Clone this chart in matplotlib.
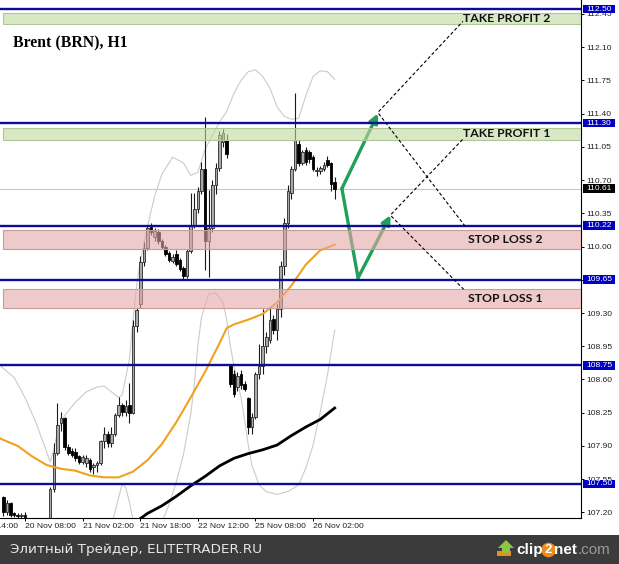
#!/usr/bin/env python3
"""Brent (BRN) H1 candle chart with take-profit / stop-loss scenario levels."""

import matplotlib

matplotlib.use("Agg")
import matplotlib.pyplot as plt
import matplotlib.transforms as mtransforms
from matplotlib.patches import Rectangle, Polygon

OUT_PNG = "out.png"

# hourly candles, bar 0 .. 92
OPENS = [107.36, 107.20, 107.30, 107.19, 107.17, 107.16, 107.17, 107.10, 107.00, 106.95,
         106.98, 106.93, 106.96, 106.95, 107.45, 107.83, 108.14, 108.19, 107.89, 107.85,
         107.84, 107.79, 107.73, 107.72, 107.75, 107.68, 107.70, 107.72, 107.95, 108.03,
         107.93, 108.03, 108.23, 108.33, 108.26, 108.33, 108.25, 109.16, 109.40, 109.84,
         109.98, 110.21, 110.10, 110.15, 110.06, 110.00, 109.93, 109.85, 109.92, 109.86,
         109.77, 109.69, 109.95, 110.23, 110.40, 110.58, 110.82, 110.06, 110.20, 110.65,
         110.83, 111.10, 111.12, 108.74, 108.66, 108.52, 108.66, 108.55, 108.40, 108.10,
         108.21, 108.66, 108.74, 108.95, 109.02, 109.24, 109.12, 109.34, 109.80, 110.25,
         110.56, 110.82, 111.08, 110.88, 111.02, 110.99, 110.94, 110.79, 110.80, 110.82,
         110.91, 110.88, 110.68]
HIGHS = [107.37, 107.33, 107.31, 107.21, 107.19, 107.19, 107.20, 107.12, 107.05, 107.02,
         107.04, 107.00, 107.05, 107.47, 107.93, 108.35, 108.26, 108.21, 107.92, 107.88,
         107.88, 107.81, 107.80, 107.80, 107.77, 107.72, 107.74, 107.96, 108.10, 108.06,
         108.10, 108.25, 108.42, 108.35, 108.38, 108.56, 109.23, 109.35, 109.90, 110.05,
         110.23, 110.25, 110.20, 110.18, 110.08, 110.02, 109.95, 109.92, 109.96, 109.88,
         109.79, 109.97, 110.56, 110.56, 110.63, 110.89, 111.36, 110.60, 110.70, 110.88,
         111.22, 111.24, 111.18, 108.76, 108.70, 108.68, 108.70, 108.58, 108.42, 108.25,
         108.68, 108.97, 109.34, 109.10, 109.36, 109.28, 109.40, 109.85, 110.30, 110.65,
         110.85, 111.62, 111.12, 111.02, 111.05, 111.02, 110.96, 110.84, 110.85, 110.89,
         110.95, 110.89, 110.73]
LOWS = [107.16, 107.17, 107.15, 107.15, 107.14, 107.13, 107.12, 106.98, 106.90, 106.88,
        106.90, 106.86, 106.92, 106.92, 107.42, 107.80, 108.06, 107.86, 107.80, 107.78,
        107.74, 107.71, 107.71, 107.68, 107.63, 107.61, 107.63, 107.70, 107.88, 107.89,
        107.89, 108.00, 108.20, 108.22, 108.22, 108.14, 108.24, 109.10, 109.35, 109.80,
        109.96, 110.12, 110.06, 110.03, 109.97, 109.90, 109.84, 109.83, 109.80, 109.74,
        109.65, 109.67, 109.93, 110.20, 110.35, 110.55, 109.75, 109.68, 110.15, 110.55,
        110.80, 111.05, 110.93, 108.52, 108.42, 108.48, 108.50, 108.48, 108.03, 108.03,
        108.18, 108.60, 108.66, 108.88, 108.98, 109.08, 109.02, 109.26, 109.70, 110.20,
        110.50, 110.80, 110.85, 110.86, 110.86, 110.88, 110.80, 110.74, 110.76, 110.80,
        110.84, 110.58, 110.50]
CLOSES = [107.20, 107.30, 107.17, 107.17, 107.16, 107.17, 107.15, 107.00, 106.95, 106.98,
          106.93, 106.96, 106.95, 107.45, 107.83, 108.12, 108.19, 107.89, 107.83, 107.81,
          107.77, 107.73, 107.78, 107.77, 107.66, 107.70, 107.72, 107.95, 108.03, 107.93,
          108.03, 108.23, 108.33, 108.26, 108.32, 108.25, 109.16, 109.33, 109.84, 109.98,
          110.19, 110.15, 110.16, 110.06, 110.00, 109.92, 109.86, 109.89, 109.82, 109.76,
          109.69, 109.95, 110.23, 110.40, 110.58, 110.82, 110.06, 110.20, 110.65, 110.83,
          111.17, 111.20, 110.97, 108.55, 108.45, 108.64, 108.54, 108.50, 108.10, 108.21,
          108.66, 108.74, 108.95, 109.05, 109.23, 109.12, 109.34, 109.80, 110.25, 110.58,
          110.82, 111.12, 110.88, 110.99, 110.89, 110.92, 110.82, 110.81, 110.83, 110.86,
          110.86, 110.66, 110.61]

# moving averages and Bollinger bands, read at a few bars each
MA_FAST_IDX = [-1, 4, 8, 12, 16, 20, 24, 28, 32, 36, 40, 44, 48, 52, 56, 58, 60, 62, 64,
               68, 72, 76, 80, 84, 88, 92]
MA_FAST = [107.98, 107.90, 107.79, 107.70, 107.66, 107.64, 107.59, 107.57, 107.57, 107.63,
           107.75, 107.92, 108.15, 108.41, 108.68, 108.83, 108.98, 109.14, 109.18, 109.23,
           109.29, 109.41, 109.59, 109.81, 109.96, 110.02]
MA_SLOW_IDX = [36, 40, 44, 48, 52, 56, 60, 64, 68, 72, 76, 80, 84, 88, 92]
MA_SLOW = [107.08, 107.19, 107.27, 107.37, 107.48, 107.58, 107.69, 107.77, 107.82, 107.86,
           107.91, 108.01, 108.10, 108.18, 108.30]
BB_UP_IDX = [-1, 3, 6, 9, 12, 13, 14, 15, 17, 20, 23, 26, 28, 30, 32, 33, 35, 36, 37, 38,
             40, 42, 44, 47, 50, 52, 54, 56, 58, 60, 62, 64, 66, 68, 70, 72, 74, 76, 78,
             80, 82, 84, 86, 88, 90, 92]
BB_UP = [108.75, 108.62, 108.41, 108.15, 107.84, 107.73, 107.86, 108.05, 108.22, 108.36,
         108.47, 108.52, 108.53, 108.47, 108.41, 108.44, 108.81, 109.23, 109.59, 109.84,
         110.21, 110.53, 110.76, 110.94, 110.88, 110.75, 110.78, 111.02, 111.17, 111.31,
         111.42, 111.61, 111.75, 111.84, 111.86, 111.79, 111.67, 111.47, 111.37, 111.34,
         111.35, 111.59, 111.79, 111.85, 111.84, 111.76]
BB_LO_IDX = [29, 31, 33, 34, 35, 36, 38, 42, 44, 46, 48, 50, 52, 53, 54, 55, 57, 59, 61,
             62, 63, 64, 65, 66, 67, 68, 69, 71, 73, 76, 79, 82, 84, 86, 88, 90, 92]
BB_LO = [106.91, 107.21, 107.50, 107.46, 107.31, 107.12, 106.70, 106.75, 107.10, 107.28,
         107.52, 107.81, 108.23, 108.54, 108.96, 109.25, 109.50, 109.51, 109.41, 109.23,
         108.96, 108.75, 108.57, 108.41, 108.17, 107.91, 107.70, 107.49, 107.42, 107.39,
         107.42, 107.49, 107.67, 107.91, 108.26, 108.65, 109.12]

LEVELS = [112.50, 111.30, 110.22, 109.65, 108.75, 107.50]
LAST_PRICE = 110.61

ZONE_NAMES = ["TAKE PROFIT 2", "TAKE PROFIT 1", "STOP LOSS 2", "STOP LOSS 1"]
ZONE_LOW = [112.34, 111.12, 109.97, 109.35]
ZONE_HIGH = [112.46, 111.25, 110.17, 109.55]
ZONE_KIND = ["tp", "tp", "sl", "sl"]
ZONE_TEXT_X = [127.6, 127.6, 128.9, 128.9]

# scenario paths (bar, price)
UP_PATH = [(94.0, 110.61), (104.0, 111.40)]
V_PATH = [(94.0, 110.61), (98.5, 109.67), (107.5, 110.33)]
GUIDES = [
    [(104.2, 111.42), (127.6, 112.37)],
    [(104.2, 111.40), (128.3, 110.21)],
    [(107.7, 110.34), (127.6, 111.13)],
    [(107.7, 110.32), (127.8, 109.55)],
]

TIME_TICKS = [6, 22, 38, 54, 70, 86]
TIME_LABELS = ["20 Nov 08:00", "21 Nov 02:00", "21 Nov 18:00",
               "22 Nov 12:00", "25 Nov 08:00", "26 Nov 02:00"]
PRICE_TICKS = [107.20, 107.55, 107.90, 108.25, 108.60, 108.95, 109.30, 109.65,
               110.00, 110.35, 110.70, 111.05, 111.40, 111.75, 112.10, 112.45]

W, H = 619, 564
AX_W, AX_H = 581, 518


def draw_candles(ax):
    for i, (o, h, l, c) in enumerate(zip(OPENS, HIGHS, LOWS, CLOSES)):
        ax.vlines(i, l, h, color="#1a1a1a", lw=0.8, zorder=3)
        bull = c >= o
        ax.bar(i, max(abs(c - o), 0.012), bottom=min(o, c), width=0.72,
               color="#a9a9a9" if bull else "#000000",
               edgecolor="#2a2a2a" if bull else "#000000", lw=0.6, zorder=3)


def draw_levels(ax):
    blend = mtransforms.blended_transform_factory(ax.transAxes, ax.transData)
    ax.axhline(LAST_PRICE, color="#c8c8c8", lw=0.8, zorder=1)
    for lvl in LEVELS:
        ax.axhline(lvl, color="#0c0c96", lw=1.7, zorder=6)

    for name, lo, hi, kind, tx in zip(ZONE_NAMES, ZONE_LOW, ZONE_HIGH, ZONE_KIND,
                                      ZONE_TEXT_X):
        if kind == "tp":
            fc, ec = (0.75, 0.85, 0.62, 0.6), "#b3c69a"
        else:
            fc, ec = (0.89, 0.66, 0.66, 0.6), "#c99a9a"
        ax.add_patch(Rectangle((3 / AX_W, lo), 1 - 3 / AX_W, hi - lo, transform=blend,
                               facecolor=fc, edgecolor=ec, lw=0.8, zorder=5))
        ax.text(tx, (lo + hi) / 2, name, ha="left", va="center", fontweight="bold",
                color="#111111", zorder=9, family=["Lato", "DejaVu Sans"],
                fontsize=8.8)

    # price boxes on the right scale
    for lvl, fc in [(v, "#0000c4") for v in LEVELS] + [(LAST_PRICE, "#000000")]:
        ax.add_patch(Rectangle((583 / AX_W, lvl - 0.046), 32 / AX_W, 0.092,
                               transform=blend, facecolor=fc, edgecolor="none",
                               clip_on=False, zorder=10))
        ax.text(599 / AX_W, lvl, f"{lvl:.2f}", transform=blend, ha="center",
                va="center", fontsize=6.1, color="white", clip_on=False, zorder=11,
                family="Liberation Sans")


def draw_scenario(ax):
    green = "#20a058"
    (x0, y0), (x1, y1) = UP_PATH
    ax.annotate("", xy=(x1, y1), xytext=(x0, y0),
                arrowprops=dict(arrowstyle="-|>", color=green, lw=2.4,
                                mutation_scale=13, shrinkA=0, shrinkB=0), zorder=4)
    vx = [p[0] for p in V_PATH]
    vy = [p[1] for p in V_PATH]
    ax.plot(vx[:2], vy[:2], color=green, lw=2.4, zorder=4, solid_capstyle="round")
    ax.annotate("", xy=V_PATH[2], xytext=V_PATH[1],
                arrowprops=dict(arrowstyle="-|>", color=green, lw=2.4,
                                mutation_scale=13, shrinkA=0, shrinkB=0), zorder=4)
    for seg in GUIDES:
        ax.plot([seg[0][0], seg[1][0]], [seg[0][1], seg[1][1]], color="black",
                lw=0.8, ls=(0, (3, 2)), zorder=7)


def draw_footer(fig, ax):
    fig.add_artist(Rectangle((0, 0), 1, 29 / H, transform=fig.transFigure,
                             facecolor="#3b3b3b", edgecolor="none", zorder=-1))
    fig.text(10 / W, 14 / H, "Элитный Трейдер, ELITETRADER.RU", color="#e6e6e6",
             fontsize=9.7, va="center", ha="left", family="DejaVu Sans")
    # clip2net logo
    fig.add_artist(Polygon([(497 / W, 8 / H), (511 / W, 8 / H), (511 / W, 13 / H),
                            (497 / W, 13 / H)], closed=True, transform=fig.transFigure,
                           facecolor="#f08a1c", edgecolor="none"))
    fig.add_artist(Polygon([(502 / W, 11 / H), (502 / W, 16 / H), (498 / W, 16 / H),
                            (506 / W, 24 / H), (514 / W, 16 / H), (510 / W, 16 / H),
                            (510 / W, 11 / H)], closed=True, transform=fig.transFigure,
                           facecolor="#8cc63f", edgecolor="none"))
    t1 = fig.text(516 / W, 14 / H, "clip", color="white", fontsize=11,
                  fontweight="bold", va="center", ha="left", family="Liberation Sans")
    t2 = ax.annotate("2", xy=(1, 0.5), xycoords=t1, va="center", ha="left",
                     color="white", fontsize=9.5, fontweight="bold",
                     family="Liberation Sans", xytext=(1.6, 0), textcoords="offset points",
                     bbox=dict(boxstyle="circle,pad=0.1", fc="#f08a1c", ec="none"),
                     annotation_clip=False)
    t3 = ax.annotate("net", xy=(1, 0.5), xycoords=t2, va="center", ha="left",
                     color="white", fontsize=11, fontweight="bold",
                     family="Liberation Sans", xytext=(1.6, 0), textcoords="offset points",
                     annotation_clip=False)
    ax.annotate(".com", xy=(1, 0.5), xycoords=t3, va="center", ha="left",
                color="#9a9a9a", fontsize=11, family="Liberation Sans",
                annotation_clip=False)


def main():
    fig = plt.figure(figsize=(W / 100, H / 100), dpi=100)
    ax = fig.add_axes([0, (H - AX_H) / H, AX_W / W, AX_H / H])

    ax.set_xlim(-0.94, 160.4)
    ax.set_ylim(107.142, 112.595)

    ax.plot(BB_UP_IDX, BB_UP, color="#cbcbcb", lw=0.8, zorder=2)
    ax.plot(BB_LO_IDX, BB_LO, color="#cbcbcb", lw=0.8, zorder=2)
    draw_candles(ax)
    ax.plot(MA_FAST_IDX, MA_FAST, color="#f0a11e", lw=1.5, zorder=4)
    ax.plot(MA_SLOW_IDX, MA_SLOW, color="#000000", lw=2.0, zorder=4)
    draw_scenario(ax)
    draw_levels(ax)

    ax.text(13 / AX_W, (AX_H - 43) / AX_H, "Brent (BRN), H1", transform=ax.transAxes,
            ha="left", va="center", fontsize=11.3, fontweight="bold",
            family="Liberation Serif", zorder=9)

    # axes styling
    for side in ("left", "top"):
        ax.spines[side].set_visible(False)
    for side in ("right", "bottom"):
        ax.spines[side].set_linewidth(0.8)
    ax.yaxis.tick_right()
    ax.set_yticks(PRICE_TICKS)
    ax.set_yticklabels([f"{v:.2f}" for v in PRICE_TICKS])
    ax.set_xticks(TIME_TICKS)
    ax.set_xticklabels(TIME_LABELS)
    for lab in ax.get_xticklabels() + ax.get_yticklabels():
        lab.set_family("Liberation Sans")
        lab.set_fontsize(6.1)
        lab.set_color("#222222")
    for lab in ax.get_xticklabels():
        lab.set_horizontalalignment("left")
    ax.tick_params(axis="both", direction="out", length=2.2, width=0.7, pad=1.5)

    blend_x = mtransforms.blended_transform_factory(ax.transData, ax.transAxes)
    ax.annotate("19 Nov 14:00", xy=(-10, 0), xycoords=blend_x, xytext=(0, -3.7),
                textcoords="offset points", ha="left", va="top", fontsize=6.1,
                family="Liberation Sans", color="#222222", annotation_clip=False)

    draw_footer(fig, ax)
    fig.savefig(OUT_PNG, dpi=100)
    plt.close(fig)


if __name__ == "__main__":
    main()
